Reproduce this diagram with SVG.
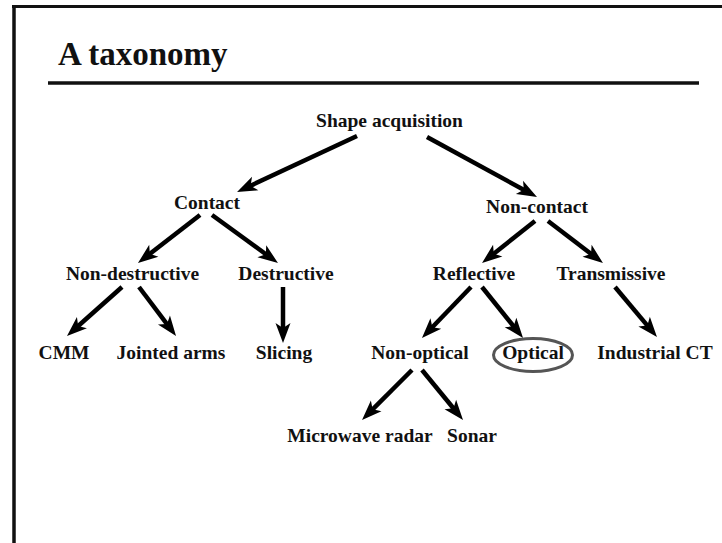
<svg xmlns="http://www.w3.org/2000/svg" width="722" height="543" viewBox="0 0 722 543">
<style>
.n{font-family:"Liberation Serif","Times New Roman",serif;font-weight:bold;font-size:19.5px;fill:#111;text-anchor:middle}
.t{font-family:"Liberation Serif","Times New Roman",serif;font-weight:bold;font-size:33px;fill:#111}
.e{fill:none;stroke:#000;stroke-width:4.5}
</style>
<defs>
<marker id="ah" markerUnits="userSpaceOnUse" markerWidth="30" markerHeight="30" viewBox="-15 -15 30 30" refX="0" refY="0" orient="auto" overflow="visible">
<path d="M9,0 L-11,7.5 L-6,0 L-11,-7.5 Z" fill="#000"/>
</marker>
</defs>
<rect width="722" height="543" fill="#fff"/>
<g id="frame">
<line x1="12" y1="6.5" x2="722" y2="6.5" stroke="#111" stroke-width="3"/>
<line x1="14" y1="5" x2="14" y2="543" stroke="#111" stroke-width="3.5"/>
<text class="t" x="58" y="65">A taxonomy</text>
<line x1="48" y1="83" x2="699" y2="83" stroke="#111" stroke-width="3.5"/>
</g>
<g id="connectors">
<line class="e" x1="357" y1="136" x2="245.2" y2="188.2" marker-end="url(#ah)"/>
<line class="e" x1="427" y1="137" x2="529.1" y2="192.7" marker-end="url(#ah)"/>
<line class="e" x1="200" y1="215" x2="145.1" y2="257.5" marker-end="url(#ah)"/>
<line class="e" x1="212" y1="215" x2="270.7" y2="257.7" marker-end="url(#ah)"/>
<line class="e" x1="122" y1="287" x2="73.7" y2="330" marker-end="url(#ah)"/>
<line class="e" x1="139" y1="287" x2="170.6" y2="328.8" marker-end="url(#ah)"/>
<line class="e" x1="283" y1="287" x2="283" y2="334" marker-end="url(#ah)"/>
<line class="e" x1="535" y1="221" x2="489.1" y2="257.4" marker-end="url(#ah)"/>
<line class="e" x1="548" y1="221" x2="595.8" y2="257.5" marker-end="url(#ah)"/>
<line class="e" x1="471" y1="287" x2="428.2" y2="331.5" marker-end="url(#ah)"/>
<line class="e" x1="482" y1="287" x2="517.4" y2="331" marker-end="url(#ah)"/>
<line class="e" x1="615" y1="287" x2="651.2" y2="330.1" marker-end="url(#ah)"/>
<line class="e" x1="412" y1="370" x2="368.4" y2="413.6" marker-end="url(#ah)"/>
<line class="e" x1="422" y1="370" x2="457.3" y2="413" marker-end="url(#ah)"/>
</g>
<g id="shape-acquisition"><text class="n" x="389.5" y="127">Shape acquisition</text></g>
<g id="contact"><text class="n" x="207" y="209">Contact</text></g>
<g id="non-contact"><text class="n" x="537" y="213">Non-contact</text></g>
<g id="non-destructive"><text class="n" x="132.5" y="280">Non-destructive</text></g>
<g id="destructive"><text class="n" x="286" y="280">Destructive</text></g>
<g id="reflective"><text class="n" x="474" y="280">Reflective</text></g>
<g id="transmissive"><text class="n" x="611" y="280">Transmissive</text></g>
<g id="cmm"><text class="n" x="64" y="359">CMM</text></g>
<g id="jointed-arms"><text class="n" x="171" y="359">Jointed arms</text></g>
<g id="slicing"><text class="n" x="284" y="359">Slicing</text></g>
<g id="non-optical"><text class="n" x="420" y="359">Non-optical</text></g>
<g id="optical"><ellipse cx="533" cy="355" rx="39.5" ry="16.5" fill="none" stroke="#555" stroke-width="3"/><text class="n" x="533" y="359">Optical</text></g>
<g id="industrial-ct"><text class="n" x="655" y="359">Industrial CT</text></g>
<g id="microwave-radar"><text class="n" x="360" y="442">Microwave radar</text></g>
<g id="sonar"><text class="n" x="472" y="442">Sonar</text></g>
</svg>
